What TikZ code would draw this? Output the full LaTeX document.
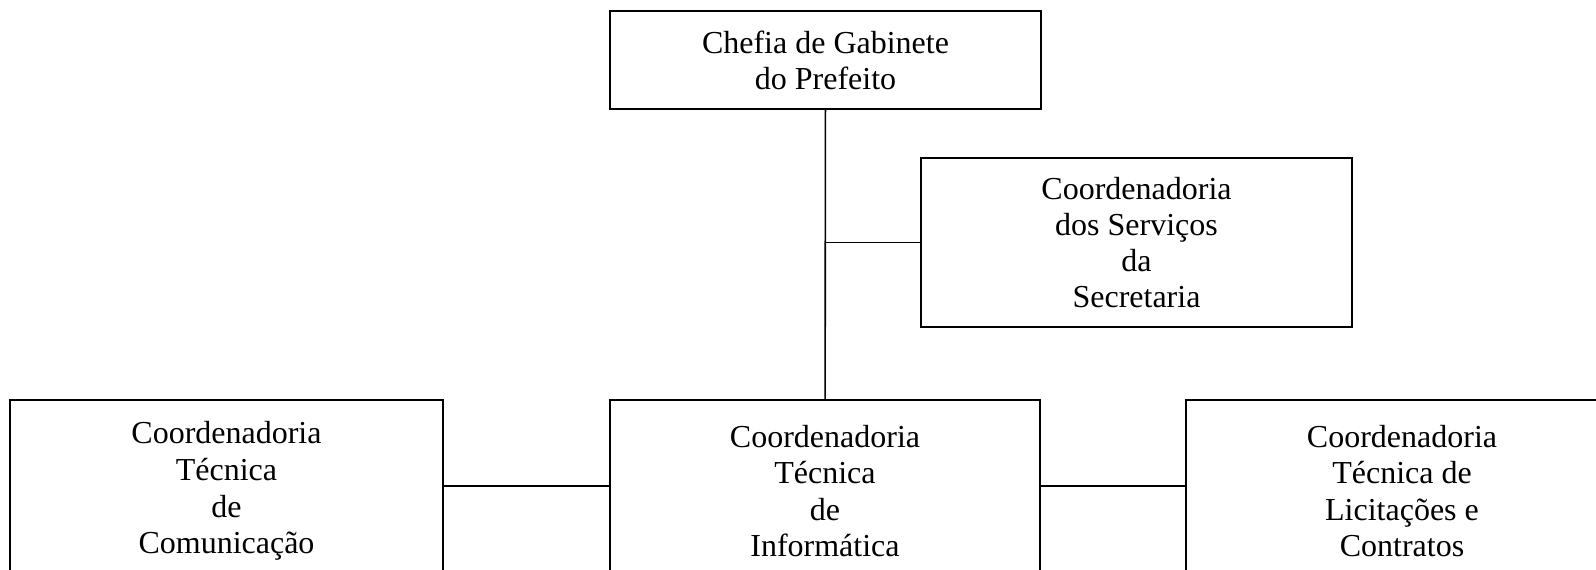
\documentclass[tikz,border=0pt]{standalone}
\usepackage{fontspec}
\setmainfont{Liberation Serif}
\usepackage{tikz}
\usetikzlibrary{positioning}
\tikzstyle{orgbox}=[draw=black, line width=0.8pt, inner sep=0pt, align=center,
    font=\fontsize{16pt}{18pt}\selectfont]
\tikzstyle{orgboxlow}=[orgbox, minimum height=91pt,
    font=\fontsize{16pt}{18.3pt}\selectfont]
\tikzstyle{orgline}=[draw=black, line width=0.8pt]

\begin{document}
\begin{tikzpicture}[x=.5pt,y=-.5pt]
          \useasboundingbox (0,0) rectangle (1596,569);
          \clip (0,0) rectangle (1596,569);
          \node[orgbox, minimum width=215.5pt, minimum height=49pt] (chefia) at (825.5,60){Chefia de Gabinete\\do Prefeito};
          \node[orgbox, minimum width=215.5pt, minimum height=84.5pt] (servicos) at (1136.5,242.5){Coordenadoria\\dos Serviços\\da\\Secretaria};
          \node[orgboxlow, minimum width=216.5pt] (comunicacao) at (226.5,491){Coordenadoria\\Técnica\\de\\Comunicação};
          \node[orgboxlow, minimum width=215pt] (informatica) at (825,491){Coordenadoria\\Técnica\\de\\Informática};
          \node[orgboxlow, minimum width=216pt] (licitacoes) at (1402,491){Coordenadoria\\Técnica de\\Licitações e\\Contratos};
          \coordinate (juncao) at (chefia.south |- servicos.west);
          \draw[orgline](chefia) -- (informatica);
          \draw[orgline](juncao) -- (servicos);
          \draw[orgline](comunicacao.east |- 0,486) -- (informatica.west |- 0,486);
          \draw[orgline](informatica.east |- 0,486) -- (licitacoes.west |- 0,486);
        \end{tikzpicture}
\end{document}
